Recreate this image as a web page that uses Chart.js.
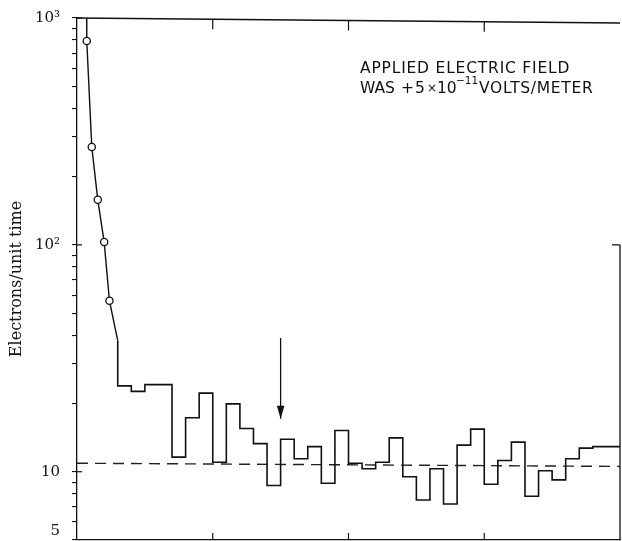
<!DOCTYPE html>
<html>
<head>
<meta charset="utf-8">
<script src="https://cdn.jsdelivr.net/npm/chart.js@4"></script>
<style>
  html, body { margin: 0; padding: 0; background: #fff; }
  #wrap { width: 622px; height: 541px; position: relative; }
</style>
</head>
<body>
<div id="wrap"><canvas id="c" width="622" height="541"></canvas></div>
<script>
// ---- data ----
const curveX = [0.70, 0.72, 1.09, 1.53, 2.0, 2.39, 3];
const curveY = [1300, 792, 270, 158, 103, 56.7, 37.8];
const curveMarked = [false, true, true, true, true, true, false];

const histStart = 3;
const histValues = [37.8, 23.9, 22.6, 24.2, 24.2, 11.6, 17.3, 22.2, 11.0, 19.9,
                    15.5, 13.3, 8.7, 13.9, 11.4, 12.9, 8.9, 15.2, 10.9, 10.3,
                    11.0, 14.1, 9.5, 7.5, 10.3, 7.2, 13.1, 15.4, 8.8, 11.2,
                    13.5, 7.8, 10.1, 9.2, 11.4, 12.7, 12.9];

const baselineX = [0, 40];
const baselineY = [10.9, 10.55];

const arrowX = [15, 15];
const arrowY = [38.9, 17.1];

const yTickValues = [5, 6, 7, 8, 9, 10, 20, 30, 40, 50, 60, 70, 80, 90,
                     100, 200, 300, 400, 500, 600, 700, 800, 900, 1000];
const yTickLabels = {5: ['5', ''], 10: '10', 100: '10²', 1000: '10³'};
const yMajor = [10, 100, 1000];
const xTickValues = [10, 20, 30];

const yTitle = 'Electrons/unit time';
const noteLine1 = 'APPLIED ELECTRIC FIELD';
// second line pieces: [text, x, baselineY, fontSize, letterSpacing]
const noteLine2 = [
  ['WAS', 360, 93, 15.5, 0],
  ['+', 401, 93, 15.5, 0],
  ['5', 415, 93, 15.5, 0],
  ['×', 427, 92, 12, 0],
  ['10', 437, 93, 15.5, 0],
  ['−11', 456, 84, 10.5, 0],
  ['VOLTS/METER', 479, 93, 15.5, 0.7]
];

// ---- build datasets ----
const curveData = curveX.map((x, i) => ({x: x, y: curveY[i]}));
const histData = histValues.map((v, i) => ({x: histStart + i, y: v}));
histData.push({x: histStart + histValues.length, y: histValues[histValues.length - 1]});
const baseData = baselineX.map((x, i) => ({x: x, y: baselineY[i]}));
const arrowData = arrowX.map((x, i) => ({x: x, y: arrowY[i]}));

const ink = '#111';

const framePlugin = {
  id: 'frame',
  afterDatasetsDraw(chart) {
    const ctx = chart.ctx;
    const xs = chart.scales.x, ys = chart.scales.y;
    const a = chart.chartArea;
    ctx.save();
    ctx.strokeStyle = ink;
    ctx.lineWidth = 1.3;
    // top border
    ctx.beginPath();
    ctx.moveTo(a.left, a.top); ctx.lineTo(a.right, a.top + 5);
    ctx.stroke();
    // right border from 10^2 down
    const y100 = ys.getPixelForValue(100);
    ctx.beginPath();
    ctx.moveTo(a.right, y100); ctx.lineTo(a.right, a.bottom);
    ctx.moveTo(a.right, y100); ctx.lineTo(a.right - 8, y100);
    ctx.stroke();
    // x ticks, inward, top and bottom
    ctx.lineWidth = 1.2;
    xTickValues.forEach(v => {
      const px = xs.getPixelForValue(v);
      const frac = (px - a.left) / (a.right - a.left);
      const topY = a.top + 5 * frac;
      ctx.beginPath();
      ctx.moveTo(px, topY); ctx.lineTo(px, topY + 10);
      ctx.moveTo(px, a.bottom); ctx.lineTo(px, a.bottom - 7);
      ctx.stroke();
    });
    // major y ticks crossing axis
    yMajor.forEach(v => {
      const py = ys.getPixelForValue(v);
      ctx.beginPath();
      ctx.moveTo(a.left, py); ctx.lineTo(a.left + 5, py);
      ctx.stroke();
    });
    // arrow head at end of arrow dataset
    const meta = chart.getDatasetMeta(3);
    const tip = meta.data[meta.data.length - 1];
    ctx.fillStyle = ink;
    ctx.beginPath();
    ctx.moveTo(tip.x, tip.y);
    ctx.lineTo(tip.x - 3.8, tip.y - 13);
    ctx.lineTo(tip.x + 3.8, tip.y - 13);
    ctx.closePath();
    ctx.fill();
    // annotation text
    ctx.fillStyle = ink;
    ctx.textBaseline = 'alphabetic';
    ctx.textAlign = 'left';
    ctx.font = '15.5px "DejaVu Sans"';
    try { ctx.letterSpacing = '0.8px'; } catch (e) {}
    ctx.fillText(noteLine1, 360, 73);
    noteLine2.forEach(p => {
      ctx.font = p[3] + 'px "DejaVu Sans"';
      try { ctx.letterSpacing = p[4] + 'px'; } catch (e) {}
      ctx.fillText(p[0], p[1], p[2]);
    });
    ctx.restore();
  }
};

new Chart(document.getElementById('c'), {
  type: 'line',
  data: {
    datasets: [
      {
        data: curveData,
        borderColor: ink, borderWidth: 1.4,
        pointRadius: curveMarked.map(m => m ? 3.6 : 0),
        pointBackgroundColor: '#fff', pointBorderColor: ink, pointBorderWidth: 1.3,
        tension: 0
      },
      {
        data: histData,
        stepped: 'after',
        borderColor: ink, borderWidth: 1.6,
        pointRadius: 0
      },
      {
        data: baseData,
        borderColor: '#222', borderWidth: 1.4,
        borderDash: [11, 7],
        pointRadius: 0
      },
      {
        data: arrowData,
        borderColor: ink, borderWidth: 1.3,
        pointRadius: 0
      }
    ]
  },
  options: {
    responsive: false,
    animation: false,
    events: [],
    layout: { padding: { top: 18, right: 2, bottom: 0, left: 0 } },
    plugins: { legend: { display: false }, tooltip: { enabled: false } },
    scales: {
      x: {
        type: 'linear', min: 0, max: 40,
        ticks: { display: false },
        grid: { display: false, drawTicks: false },
        border: { display: true, color: ink, width: 1.3 },
        afterFit(s) { s.height = 1; s.paddingLeft = 0; s.paddingRight = 0; }
      },
      y: {
        type: 'logarithmic', min: 5, max: 1000,
        afterBuildTicks(s) { s.ticks = yTickValues.map(v => ({value: v, major: yMajor.includes(v)})); },
        afterFit(s) { s.width = 77; s.paddingTop = 0; s.paddingBottom = 0; },
        ticks: {
          autoSkip: false,
          color: ink,
          padding: 12,
          font: { family: '"DejaVu Serif"', size: 15 },
          callback: (v) => (yTickLabels[v] !== undefined ? yTickLabels[v] : '')
        },
        grid: { drawOnChartArea: false, drawTicks: true, tickLength: 5, color: ink, lineWidth: 1.1 },
        border: { display: true, color: ink, width: 1.3 },
        title: {
          display: true, text: yTitle, color: ink,
          font: { family: '"DejaVu Serif"', size: 16 },
          padding: { top: 7, bottom: 0 }
        }
      }
    }
  },
  plugins: [framePlugin]
});
</script>
</body>
</html>
